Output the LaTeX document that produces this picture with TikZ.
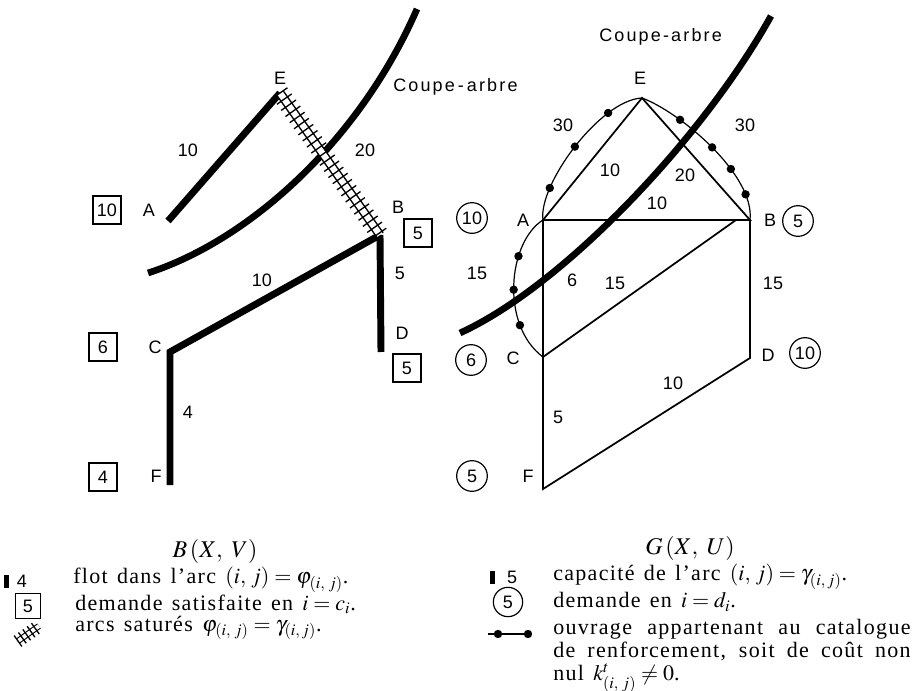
\documentclass[tikz,border=0pt]{standalone}
\usepackage{mathptmx}
\usepackage{fontspec}
\setmainfont{Liberation Serif}
\newfontfamily\labfont{Liberation Sans}
\newfontfamily\cutfont[LetterSpace=12]{Liberation Sans}
\newfontfamily\legfont[LetterSpace=6]{Liberation Serif}
\newcommand{\legspacing}{\spaceskip=0.42em plus 0.3em minus 0.1em\relax}
\usetikzlibrary{decorations.pathreplacing}

\tikzset{
  flow/.style={line width=5.2pt, line join=miter},
  cutline/.style={line width=5pt},
  arc/.style={line width=1.3pt},
  cat/.style={line width=0.9pt},
  dot/.style={circle, fill, inner sep=0pt, minimum size=6.3pt},
  lbl/.style={font=\labfont\fontsize{13.5}{16}\selectfont, inner sep=0pt},
  dem/.style={lbl, draw, line width=0.9pt, minimum size=21pt},
  req/.style={lbl, draw, circle, line width=0.9pt, minimum size=23pt},
  satur/.style={line width=1.1pt, double distance=4.6pt},
  hatch/.style={line width=1pt, decorate,
    decoration={ticks, segment length=5.6pt, amplitude=6.8pt}},
  legtxt/.style={font=\legfont\fontsize{16.5}{17.4}\selectfont\legspacing,
    inner sep=0pt, anchor=west},
  legtitle/.style={font=\fontsize{18}{18}\selectfont, inner sep=0pt}
}

\begin{document}
\begin{tikzpicture}[x=0.75pt, y=-0.75pt]
  \useasboundingbox (0,0) rectangle (914,691);

  % ---- B(X,V) : flot
  \coordinate (lA) at (168,221);
  \coordinate (lE) at (280,93);
  \coordinate (lB) at (380,235);
  \coordinate (lC) at (170,352);
  \coordinate (lD) at (381,352);
  \coordinate (lF) at (170,485);

  \draw[cutline] (417,9) .. controls (360,140) and (250,240) .. (148,273);
  \node[lbl, anchor=west] (lcut) at (393,87) {\cutfont Coupe\,-\,arbre};

  \draw[flow] (lA) -- (lE);
  \draw[flow] (lB) -- (lC) -- (lF);
  \draw[flow] (lB) -- (lD);
  \draw[satur] (lE) -- (lB);
  \draw[hatch] (lE) -- (lB);

  \node[lbl] (lEn) at (280,78) {E};
  \node[lbl] (lAn) at (149,210) {A};
  \node[lbl] (lBn) at (398,207) {B};
  \node[lbl] (lCn) at (155,347) {C};
  \node[lbl] (lDn) at (402,333) {D};
  \node[lbl] (lFn) at (156,476) {F};
  \node[dem] (lAd) at (107,210) {10};
  \node[dem] (lBd) at (418,233) {5};
  \node[dem] (lCd) at (103,347) {6};
  \node[dem] (lDd) at (407,368) {5};
  \node[dem] (lFd) at (103,477) {4};
  \node[lbl] (lAE) at (188,150) {10};
  \node[lbl] (lEB) at (365,150) {20};
  \node[lbl] (lBC) at (262,280) {10};
  \node[lbl] (lBD) at (400,273) {5};
  \node[lbl] (lCF) at (188,412) {4};

  % ---- G(X,U) : capacites
  \coordinate (rA) at (543,220);
  \coordinate (rE) at (642,98);
  \coordinate (rB) at (750,220);
  \coordinate (rBb) at (736,220);
  \coordinate (rC) at (543,357);
  \coordinate (rD) at (750,358);
  \coordinate (rF) at (543,489);

  \draw[arc] (rA) -- (rE) -- (rB) -- (rA) -- (rC) -- (rF) -- (rD) -- (rB);
  \draw[arc] (rC) -- (rBb);

  \draw[cat] (rA) .. controls (538,185) and (600,100) .. (rE)
    node[dot, pos=0.24] {} node[dot, pos=0.5] {} node[dot, pos=0.75] {};
  \draw[cat] (rE) .. controls (680,112) and (755,175) .. (rB)
    node[dot, pos=0.28] {} node[dot, pos=0.5] {} node[dot, pos=0.65] {} node[dot, pos=0.82] {};
  \draw[cat] (rA) .. controls (508,242) and (500,325) .. (rC)
    node[dot, pos=0.32] {} node[dot, pos=0.53] {} node[dot, pos=0.75] {};

  \draw[cutline] (771,16) .. controls (705,135) and (565,285) .. (460,333);
  \node[lbl, anchor=west] (rcut) at (599,37) {\cutfont Coupe-arbre};

  \node[lbl] (rEn) at (640,78) {E};
  \node[lbl] (rAn) at (523,220) {A};
  \node[lbl] (rBn) at (770,220) {B};
  \node[lbl] (rCn) at (513,358) {C};
  \node[lbl] (rDn) at (768,355) {D};
  \node[lbl] (rFn) at (528,476) {F};
  \node[req] (rAd) at (472,218) {10};
  \node[req] (rBd) at (798,221) {5};
  \node[req] (rCd) at (471,360) {6};
  \node[req] (rDd) at (805,353) {10};
  \node[req] (rFd) at (472,476) {5};
  \node[lbl] (rAEk) at (563,125) {30};
  \node[lbl] (rAE) at (610,170) {10};
  \node[lbl] (rEB) at (685,175) {20};
  \node[lbl] (rAB) at (657,203) {10};
  \node[lbl] (rEBk) at (745,125) {30};
  \node[lbl] (rACk) at (477,273) {15};
  \node[lbl] (rAC) at (572,280) {6};
  \node[lbl] (rCB) at (615,283) {15};
  \node[lbl] (rBD) at (773,283) {15};
  \node[lbl] (rFD) at (673,383) {10};
  \node[lbl] (rCF) at (558,417) {5};

  % ---- legendes
  \node[legtitle] (ltitle) at (215,551) {$B\,(X,\ V)$};
  \fill (4,575) rectangle (9,588);
  \node[lbl] (lk1) at (22,581) {4};
  \node[legtxt] (lt1) at (73,580) {flot dans l’arc $(i,\,j) = \varphi_{(i,\;j)}$.};
  \node[dem, minimum size=19pt] (lk2) at (28,606) {5};
  \node[legtxt] (lt2) at (75,604) {demande satisfaite en $i = c_i$.};
  \coordinate (lk3a) at (18,641);
  \coordinate (lk3b) at (39,626);
  \draw[satur, double distance=3pt, line width=0.8pt] (lk3a) -- (lk3b);
  \draw[hatch, decoration={ticks, segment length=4pt, amplitude=5pt}] (lk3a) -- (lk3b);
  \node[legtxt] (lt3) at (75,628) {arcs saturés $\varphi_{(i,\;j)} = \gamma_{(i,\,j)}$.};

  \node[legtitle] (rtitle) at (690,548) {$G\,(X,\ U)$};
  \fill (490,571) rectangle (495,584);
  \node[lbl] (rk1) at (512,577) {5};
  \node[legtxt] (rt1) at (553,577) {capacité de l’arc $(i,\,j) = \gamma_{(i,\,j)}$.};
  \node[req, minimum size=22pt] (rk2) at (508,602) {5};
  \node[legtxt] (rt2) at (553,602) {demande en $i = d_i$.};
  \coordinate (rk3a) at (488,634);
  \coordinate (rk3b) at (528,634);
  \draw[cat] (rk3a) -- (rk3b) node[dot, pos=0.25] {} node[dot, pos=1] {};
  \node[legtxt, anchor=north west, text width=268pt, align=justify] (rt3) at (553,619)
    {ouvrage appartenant au catalogue\linebreak de renforcement, soit de coût non\linebreak nul $k^t_{(i,\;j)} \neq 0$.};
\end{tikzpicture}
\end{document}
